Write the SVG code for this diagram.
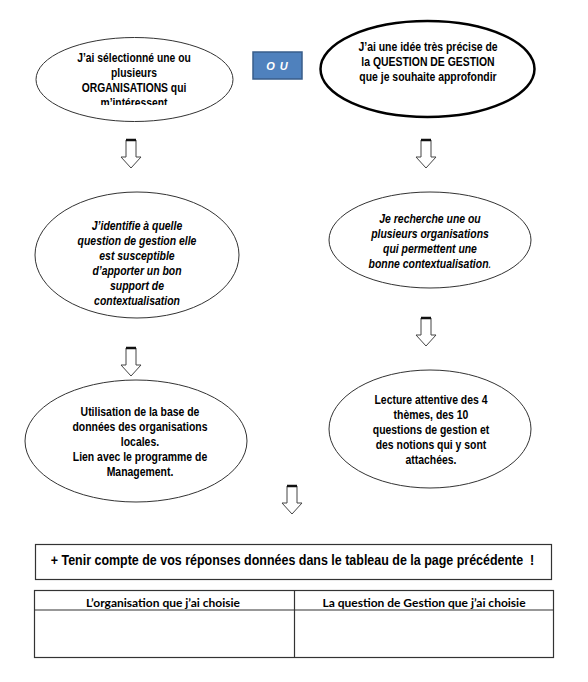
<svg xmlns="http://www.w3.org/2000/svg" width="588" height="682" viewBox="0 0 588 682">
<style>
.el{fill:#fff;stroke:#333;stroke-width:1}
.elb{fill:#fff;stroke:#000;stroke-width:2.5}
.t{font-family:"Liberation Sans",Arial,sans-serif;font-weight:bold;font-size:12px;fill:#000;text-anchor:middle}
.big{font-size:14.5px}
.i{font-style:italic}
.arr{fill:#fff;stroke:#444;stroke-width:1}
.cap{stroke:#111;stroke-width:2.5}
.box{fill:#fff;stroke:#333;stroke-width:1.2}
.th{font-family:Lato,"Open Sans",sans-serif;font-weight:bold;font-size:12px;fill:#000;text-anchor:middle}
</style>
<defs>
<clipPath id="c1"><rect x="30" y="40" width="210" height="65"/></clipPath>
</defs>
<rect width="588" height="682" fill="#fff"/>
<g id="n1">
<ellipse class="el" cx="134.5" cy="79.5" rx="98.5" ry="42"/>
<g clip-path="url(#c1)">
<g transform="translate(134,0) scale(0.86,1) translate(-134,0)">
<text class="t" x="134" y="62.5">J’ai sélectionné une ou</text>
<text class="t" x="134" y="77.5">plusieurs</text>
<text class="t" x="134" y="92.5">ORGANISATIONS qui</text>
<text class="t" x="134" y="107.5">m’intéressent</text>
</g>
</g>
</g>
<g id="ou">
<rect x="253" y="52" width="49" height="27" fill="#4F81BD" stroke="#385D8A" stroke-width="1.5"/>
<text x="277.5" y="70" font-family="Liberation Sans,Arial,sans-serif" font-weight="bold" font-style="italic" font-size="11px" letter-spacing="1" fill="#fff" text-anchor="middle">O U</text>
</g>
<g id="n2">
<ellipse class="elb" cx="427.5" cy="69" rx="107" ry="48"/>
<g transform="translate(428,0) scale(0.87,1) translate(-428,0)">
<text class="t" x="428" y="51">J’ai une idée très précise de</text>
<text class="t" x="428" y="66">la QUESTION DE GESTION</text>
<text class="t" x="428" y="81">que je souhaite approfondir</text>
</g>
</g>
<g id="n3">
<ellipse class="el" cx="137" cy="255" rx="102" ry="63"/>
<g transform="translate(137,0) scale(0.87,1) translate(-137,0)">
<text class="t i" x="137" y="230">J’identifie à quelle</text>
<text class="t i" x="137" y="245">question de gestion elle</text>
<text class="t i" x="137" y="260">est susceptible</text>
<text class="t i" x="137" y="275">d’apporter un bon</text>
<text class="t i" x="137" y="290">support de</text>
<text class="t i" x="137" y="305">contextualisation</text>
</g>
</g>
<g id="n4">
<ellipse class="el" cx="430" cy="240" rx="101" ry="48"/>
<g transform="translate(430,0) scale(0.87,1) translate(-430,0)">
<text class="t i" x="430" y="223">Je recherche une ou</text>
<text class="t i" x="430" y="238">plusieurs organisations</text>
<text class="t i" x="430" y="253">qui permettent une</text>
<text class="t i" x="430" y="268">bonne contextualisation<tspan font-weight="normal">.</tspan></text>
</g>
</g>
<g id="n5">
<ellipse class="el" cx="136" cy="441" rx="111" ry="61"/>
<g transform="translate(140,0) scale(0.87,1) translate(-140,0)">
<text class="t" x="140" y="416">Utilisation de la base de</text>
<text class="t" x="140" y="431">données des organisations</text>
<text class="t" x="140" y="446">locales.</text>
<text class="t" x="140" y="461">Lien avec le programme de</text>
<text class="t" x="140" y="476">Management.</text>
</g>
</g>
<g id="n6">
<ellipse class="el" cx="430" cy="429" rx="101" ry="59"/>
<g transform="translate(431,0) scale(0.87,1) translate(-431,0)">
<text class="t" x="431" y="404">Lecture attentive des 4</text>
<text class="t" x="431" y="419">thèmes, des 10</text>
<text class="t" x="431" y="434">questions de gestion et</text>
<text class="t" x="431" y="449">des notions qui y sont</text>
<text class="t" x="431" y="464">attachées.</text>
</g>
</g>
<g id="connectors">
<g id="a1"><polygon class="arr" points="126,140 136,140 136,157 141,157 131,168 121,157 126,157"/><line class="cap" x1="126" y1="140" x2="136" y2="140"/></g>
<g id="a2"><polygon class="arr" points="421,140 431,140 431,157 436,157 426,168 416,157 421,157"/><line class="cap" x1="421" y1="140" x2="431" y2="140"/></g>
<g id="a3"><polygon class="arr" points="126,348 136,348 136,365 141,365 131,376 121,365 126,365"/><line class="cap" x1="126" y1="348" x2="136" y2="348"/></g>
<g id="a4"><polygon class="arr" points="421,318 431,318 431,335 436,335 426,346 416,335 421,335"/><line class="cap" x1="421" y1="318" x2="431" y2="318"/></g>
<g id="a5"><polygon class="arr" points="287,486 297,486 297,503 302,503 292,514 282,503 287,503"/><line class="cap" x1="287" y1="486" x2="297" y2="486"/></g>
</g>
<g id="note">
<rect class="box" x="35.5" y="544.5" width="516" height="35"/>
<g transform="translate(292.5,0) scale(0.86,1) translate(-292.5,0)">
<text class="t big" x="292.5" y="565">+ Tenir compte de vos réponses données dans le tableau de la page précédente &#160;!</text>
</g>
</g>
<g id="table">
<rect class="box" x="34.5" y="590.5" width="519" height="67"/>
<line x1="34.5" y1="610" x2="553.5" y2="610" stroke="#333" stroke-width="1.2"/>
<line x1="294.5" y1="590.5" x2="294.5" y2="657.5" stroke="#333" stroke-width="1.2"/>
<text class="th" x="163" y="606.5">L’organisation que j’ai choisie</text>
<text class="th" x="424" y="606.5">La question de Gestion que j’ai choisie</text>
</g>
</svg>
